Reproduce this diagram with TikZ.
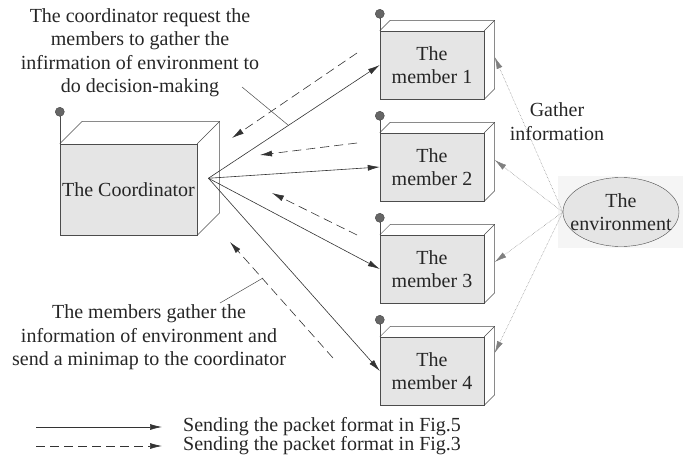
\documentclass[tikz,border=0pt]{standalone}
\usepackage{fontspec}
\setmainfont{Liberation Serif}
\usetikzlibrary{arrows.meta,calc,positioning,shapes.geometric}

\newcommand{\unitbox}[3]{%
  \draw[side] (#1.north west) -- ++(#2,-#2) -- ($(#1.north east)+(#2,-#2)$)
    -- ($(#1.south east)+(#2,-#2)$) -- (#1.south east);
  \draw[side] (#1.north east) -- ++(#2,-#2);
  \draw[side] (#1.north west) -- ++(0,-#3) node[ball] {};
}

\begin{document}
\begin{tikzpicture}[x=1pt,y=-1pt,font=\fontsize{20}{23.5}\selectfont]

\tikzset{
  front/.style={draw=black!70, fill=black!10, minimum width=104pt, minimum height=68pt,
    inner sep=0pt, align=center, text=black!85},
  side/.style={draw=black!70, line width=0.5pt},
  ball/.style={circle, draw=black!70, fill=black!60, inner sep=0pt, minimum size=9pt},
  send/.style={draw=black!80, line width=0.6pt, -{Latex[length=12pt,width=6pt]}},
  reply/.style={send, dash pattern=on 9pt off 5pt},
  gather/.style={draw=black!50, line width=0.5pt, densely dotted, -{Latex[length=12pt,width=6pt]}},
  lead/.style={draw=black!70, line width=0.5pt},
  note/.style={align=center, text=black!85, inner sep=0pt}
}

\useasboundingbox (0,0) rectangle (691,476);

\node[front, minimum width=137pt, minimum height=91pt] (coord) at (128.5,189.5) {The Coordinator};
\unitbox{coord}{22.5}{32}

\foreach \i/\y in {1/65,2/167,3/269,4/371} {
  \node[front] (m\i) at (432,\y) {The\\member \i};
  \unitbox{m\i}{10.5}{17}
}

\fill[black!4] (558,176) rectangle (683,248);
\node[ellipse, draw=black!70, fill=black!10, minimum width=116pt, minimum height=69pt] (env) at (621,212) {};
\node[note] (envtext) at (env) {The\\environment};

\coordinate (cs) at ($(coord.east)+(11.25,-11.25)$);
\foreach \i in {1,...,4}
  \draw[send] (cs) -- (m\i.west);

\foreach \i/\d in {1/8,2/7,3/7,4/18}
  \draw[gather] (env.west) -- ($(m\i.east)+(10.5,-\d)$);

\coordinate (r1) at (357,53);  \coordinate (t1) at (232,138);
\coordinate (r2) at (357,143); \coordinate (t2) at (260,155);
\coordinate (r3) at (357,235); \coordinate (t3) at (272,193);
\coordinate (r4) at (333,358); \coordinate (t4) at (230,242);
\foreach \i in {1,...,4}
  \draw[reply] (r\i) -- (t\i);

\node[note] (req) at (140,52.5) {The coordinator request the\\members to gather the\\infirmation of environment to\\do decision-making};
\node[note] (back) at (149,337.5) {The members gather the\\information of environment and\\send a minimap to the coordinator};
\node[note] (info) at (557,121.5) {Gather\\information};

\coordinate (n1) at (242,87);  \coordinate (p1) at (288,125);
\coordinate (n2) at (220,303); \coordinate (p2) at (263,278);
\draw[lead] (n1) -- (p1);
\draw[lead] (n2) -- (p2);

\node[note, anchor=west] (leg1) at (183,427) {Sending the packet format in Fig.5};
\node[note, anchor=west] (leg2) at (183,446) {Sending the packet format in Fig.3};
\coordinate (k1) at (36,427);
\coordinate (k2) at (36,446);
\draw[send, shorten >=21pt] (k1) -- (leg1.west);
\draw[reply, shorten >=21pt] (k2) -- (leg2.west);

\end{tikzpicture}
\end{document}
